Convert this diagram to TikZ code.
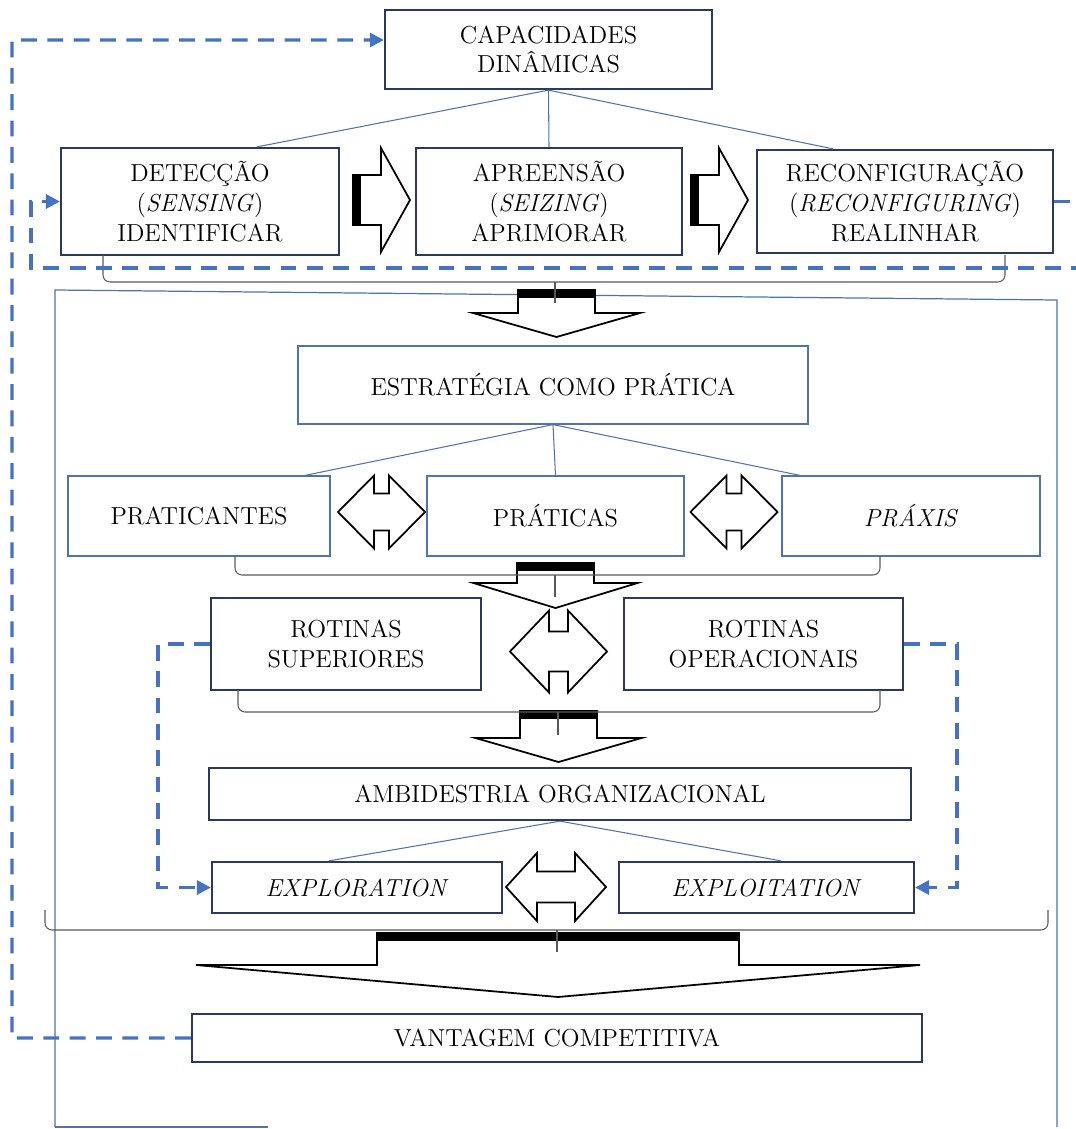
\documentclass[tikz,border=0pt]{standalone}
\usepackage{tikz}
\usetikzlibrary{arrows.meta,positioning,calc}
\definecolor{navy}{HTML}{2B3A5C}
\definecolor{steel}{HTML}{5272AC}
\definecolor{dashblue}{HTML}{4472C4}
\tikzset{
    mainbox/.style={draw=navy, line width=1.3pt, fill=white, align=center, inner sep=2pt},
    subbox/.style={draw=steel, line width=0.7pt, fill=white, align=center, inner sep=2pt},
    link/.style={draw=steel, line width=0.6pt},
    feedback/.style={draw=dashblue, line width=1.8pt, dash pattern=on 9pt off 6pt, -{Triangle[length=8pt,width=8pt]}},
    bracket/.style={draw=black!65, line width=0.6pt, rounded corners=4pt},
    blockarrow/.style={draw=black, line width=1pt, fill=white, line join=miter}
}
\newcommand{\rightblock}[2]{%
  \draw[blockarrow] (#1-28,#2-25) -- (#1,#2-25) -- (#1,#2-52) -- (#1+29,#2) -- (#1,#2+52) -- (#1,#2+25) -- (#1-28,#2+25) -- cycle;
  \fill (#1-28,#2-25) rectangle (#1-20,#2+25);}
\newcommand{\twoway}[6]{%
  \draw[blockarrow] (#1-#3,#2) -- (#1-#4,#2-#6) -- (#1-#4,#2-#5) -- (#1+#4,#2-#5) -- (#1+#4,#2-#6) -- (#1+#3,#2) -- (#1+#4,#2+#6) -- (#1+#4,#2+#5) -- (#1-#4,#2+#5) -- (#1-#4,#2+#6) -- cycle;}
\newcommand{\downblock}[6]{%
  \draw[blockarrow] (#1-#2,#3) -- (#1-#2,#4) -- (#1-#5,#4) -- (#1,#6) -- (#1+#5,#4) -- (#1+#2,#4) -- (#1+#2,#3) -- cycle;
  \fill (#1-#2,#3) rectangle (#1+#2,#3+8);}

\begin{document}
\begin{tikzpicture}[x=0.02cm, y=-0.02cm, font=\fontsize{14}{17}\selectfont]
\useasboundingbox (0,0) rectangle (1075,1129);
\draw[steel, line width=0.7pt] (55,1127) -- (55,290) -- (1057,300) -- (1057,1127);
\draw[steel, line width=0.7pt] (55,1127) -- (268,1127);

\node[mainbox, minimum width=6.54cm, minimum height=1.58cm] (cap) at (548.5,49.5) {CAPACIDADES\\DINÂMICAS};
\node[mainbox, minimum width=5.56cm, minimum height=2.14cm] (det) at (200,201.5) {DETECÇÃO\\(\textit{SENSING})\\IDENTIFICAR};
\node[mainbox, minimum width=5.32cm, minimum height=2.14cm] (apr) at (549,201.5) {APREENSÃO\\(\textit{SEIZING})\\APRIMORAR};
\node[mainbox, minimum width=5.92cm, minimum height=2.06cm] (rec) at (905,201.5) {RECONFIGURAÇÃO\\(\textit{RECONFIGURING})\\REALINHAR};

\node[subbox, minimum width=10.2cm, minimum height=1.56cm] (est) at (553,385) {ESTRATÉGIA COMO PRÁTICA};
\node[subbox, minimum width=5.24cm, minimum height=1.6cm] (prat) at (199,516) {PRATICANTES};
\node[subbox, minimum width=5.14cm, minimum height=1.6cm] (prc) at (555.5,516) {PRÁTICAS};
\node[subbox, minimum width=5.16cm, minimum height=1.6cm] (prx) at (911,516) {\textit{PRÁXIS}};

\node[mainbox, minimum width=5.4cm, minimum height=1.84cm] (rsup) at (346,644) {ROTINAS\\SUPERIORES};
\node[mainbox, minimum width=5.58cm, minimum height=1.84cm] (rop) at (763.5,644) {ROTINAS\\OPERACIONAIS};

\node[mainbox, minimum width=14.04cm, minimum height=1.04cm] (amb) at (560,794) {AMBIDESTRIA ORGANIZACIONAL};
\node[mainbox, minimum width=5.8cm, minimum height=1.02cm] (expr) at (357,887.5) {\textit{EXPLORATION}};
\node[mainbox, minimum width=5.9cm, minimum height=1.02cm] (expt) at (766.5,887.5) {\textit{EXPLOITATION}};

\node[mainbox, minimum width=14.6cm, minimum height=0.96cm] (van) at (557,1038) {VANTAGEM COMPETITIVA};

\draw[link] (cap.south) -- ([xshift=1.14cm]det.north);
\draw[link] (cap.south) -- (apr.north);
\draw[link] (cap.south) -- ([xshift=-1.44cm]rec.north);
\draw[link] (est.south) -- ([xshift=2.12cm]prat.north);
\draw[link] (est.south) -- (prc.north);
\draw[link] (est.south) -- ([xshift=-2.22cm]prx.north);
\draw[link] (amb.south) -- ([xshift=-0.56cm]expr.north);
\draw[link] (amb.south) -- ([xshift=0.29cm]expt.north);

\rightblock{381}{200}
\rightblock{719}{200}
\twoway{381.5}{512}{43.5}{7.5}{18.5}{36.5}
\twoway{734}{512}{43.5}{7.5}{18.5}{36.5}
\twoway{558.5}{651.5}{48.5}{9.5}{20}{41}
\twoway{556}{887}{50}{19}{15.5}{34}

\downblock{556.5}{38.5}{290}{313}{83.5}{337}
\downblock{555.5}{38.5}{563}{583}{82}{608}
\downblock{558.5}{38.5}{711}{738}{83}{762}
\downblock{558}{181}{933}{965}{362}{997}

\draw[bracket] (103,255) |- (555,282) -| (1005,255);
\draw[bracket] (555,282) -- (555,303);
\draw[bracket] (235,556) |- (555,575) -| (880,556);
\draw[bracket] (555,575) -- (555,597);
\draw[bracket] (238,690) |- (558,712) -| (880,690);
\draw[bracket] (558,712) -- (558,735);
\draw[bracket] (45,910) |- (557,930) -| (1048,910);
\draw[bracket] (557,930) -- (557,952);

\coordinate (outL) at (12,40);
\coordinate (inR) at (1090,268);
\coordinate (inL) at (31,268);
\coordinate (rsL) at (158,887.5);
\coordinate (ropR) at (957,887.5);
\draw[feedback] (van.west) -| (outL) -- ([yshift=0.19cm]cap.west);
\draw[feedback] (rec.east) -| (inR) -- (inL) |- (det.west);
\draw[feedback] (rsup.west) -| (rsL) -- (expr.west);
\draw[feedback] (rop.east) -| (ropR) -- (expt.east);
\end{tikzpicture}
\end{document}
